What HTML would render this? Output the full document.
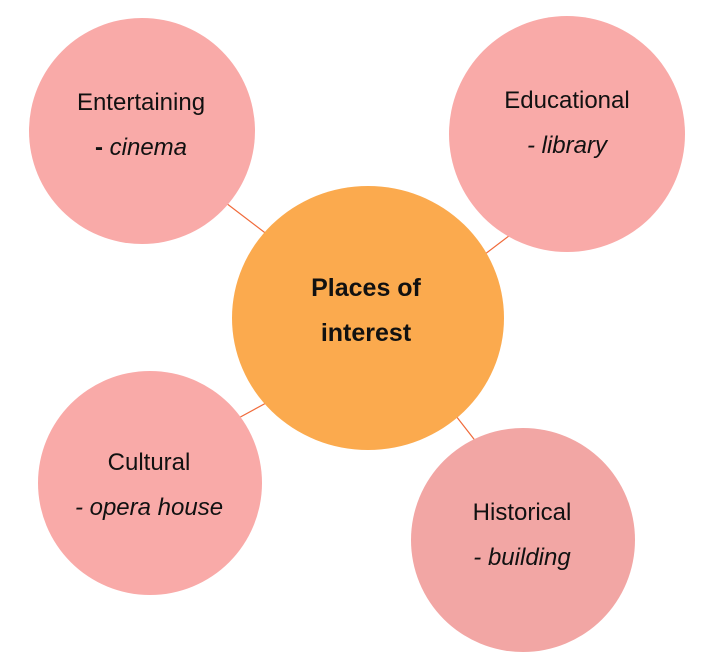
<!DOCTYPE html>
<html><head><style>
html,body{margin:0;padding:0;background:#fff;}
body{width:715px;height:655px;position:relative;overflow:hidden;font-family:"Liberation Sans",sans-serif;}
.c{position:absolute;border-radius:50%;}
.p{background:radial-gradient(circle,#f9aaa8 0%,#f9aaa8 84%,rgba(249,170,168,0.6) 93%,rgba(249,170,168,0) 100%);}
.t{position:absolute;text-align:center;font-size:24px;color:#111;line-height:45px;width:260px;}
i{font-style:italic;}
</style></head><body>
<svg width="715" height="655" style="position:absolute;left:0;top:0">
<g stroke="#f06a3a" stroke-width="1.2">
<line x1="205" y1="187" x2="285" y2="248"/>
<line x1="468" y1="267" x2="530" y2="220"/>
<line x1="222" y1="427" x2="290" y2="390"/>
<line x1="442" y1="398" x2="484" y2="452"/>
</g></svg>
<div class="c p" style="left:29px;top:18px;width:226px;height:226px"></div>
<div class="c p" style="left:449px;top:16px;width:236px;height:236px"></div>
<div class="c p" style="left:38px;top:371px;width:224px;height:224px"></div>
<div class="c" style="left:411px;top:428px;width:224px;height:224px;background:radial-gradient(circle,#f2a6a4 0%,#f2a6a4 84%,rgba(242,166,164,0.6) 93%,rgba(242,166,164,0) 100%)"></div>
<div class="c" style="left:232px;top:186px;width:272px;height:264px;background:radial-gradient(circle,#fbaa4e 0%,#fbaa4e 85%,rgba(251,170,78,0.6) 93%,rgba(251,170,78,0) 100%)"></div>
<div class="t" style="left:11px;top:80px">Entertaining<br><b>-</b> <i>cinema</i></div>
<div class="t" style="left:437px;top:78px">Educational<br><i>- library</i></div>
<div class="t" style="left:19px;top:440px">Cultural<br><i>- opera house</i></div>
<div class="t" style="left:392px;top:490px">Historical<br><i>- building</i></div>
<div class="t" style="left:236px;top:266px;font-weight:bold;font-size:25px">Places of<br>interest</div>
</body></html>
